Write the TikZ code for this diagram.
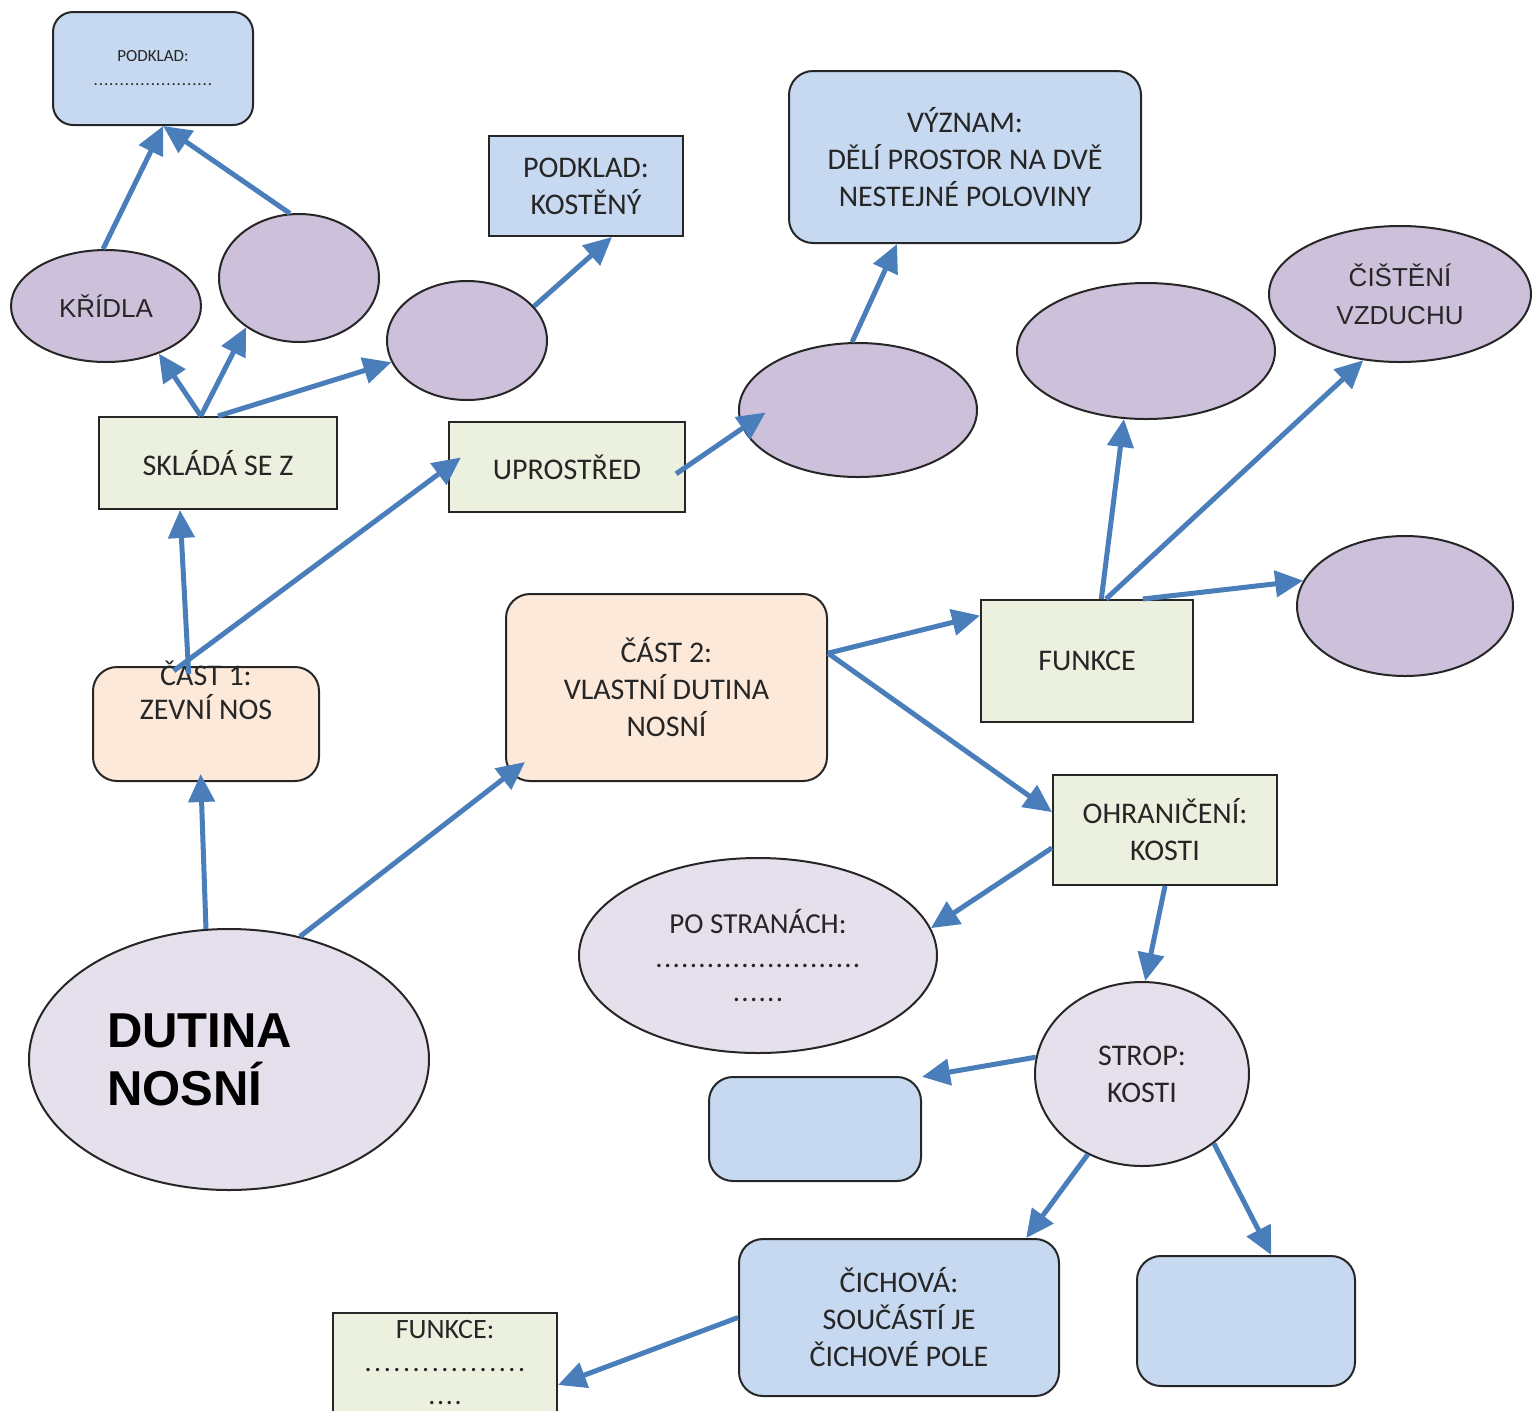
\documentclass[tikz,border=0pt]{standalone}
\usepackage{fontspec}
\setmainfont{Carlito}
\newfontfamily\arialfont{Liberation Sans}
\usetikzlibrary{arrows.meta}
\usetikzlibrary{shapes.geometric}
\definecolor{arrblue}{HTML}{4A7EBB}
\definecolor{boxblue}{HTML}{C6D9F1}
\definecolor{boxgreen}{HTML}{EBF1DE}
\definecolor{boxpeach}{HTML}{FDE9D9}
\definecolor{ovpurple}{HTML}{CCC0DA}
\definecolor{ovlav}{HTML}{E5E0EC}
% row of evenly spaced dots: width, dot pitch
\newcommand{\dotline}[2]{\hbox to #1{\cleaders\hbox to #2{\hss.\hss}\hfil}}
\tikzset{%
  arr/.style = {-{Triangle[length=14pt,width=13pt]},line width=2.5pt,arrblue},
  sq/.style = {rectangle,draw=black!85,line width=1pt,inner sep=0pt},
  rr/.style = {rectangle,rounded corners=12pt,draw=black!85,line width=1pt,
        inner sep=0pt},
  ov/.style = {ellipse,draw=black!85,line width=1pt,inner sep=0pt},
  txt/.style = {font=\fontsize{15}{18.5}\selectfont,align=center,
        text=black!85},
  atxt/.style = {font=\arialfont\fontsize{13}{19}\selectfont,align=center,
        text=black!85}
}
\begin{document}
\begin{tikzpicture}[x=0.5pt,y=-0.5pt]
    \useasboundingbox (0,0) rectangle (1533,1410);
    % top left branch
    \node[rr,fill=boxblue,rounded corners=10pt,minimum width=100pt,minimum height=56.5pt,
        font=\fontsize{8.5}{12}\selectfont,align=center,text=black!85]
        (pod1) at (153,68.5) {PODKLAD:\\\dotline{60pt}{2.6pt}};
    \node[ov,fill=ovpurple,minimum width=95pt,minimum height=56pt,atxt]
        (kridla) at (106,306) {KŘÍDLA};
    \node[ov,fill=ovpurple,minimum width=80pt,minimum height=64pt] (ovA) at (299,278) {};
    \node[ov,fill=ovpurple,minimum width=80pt,minimum height=59.5pt] (ovB) at (467,340.5) {};
    \node[sq,fill=boxblue,minimum width=97pt,minimum height=50pt,txt]
        (podkost) at (586,186) {PODKLAD:\\KOSTĚNÝ};
    \node[sq,fill=boxgreen,minimum width=119pt,minimum height=46pt,txt]
        (sklada) at (218,463) {SKLÁDÁ SE Z};
    \node[sq,fill=boxgreen,minimum width=118pt,minimum height=45pt,txt]
        (uprostred) at (567,467) {UPROSTŘED};
    \node[ov,fill=ovpurple,minimum width=119pt,minimum height=67pt] (ovC) at (858,410) {};
    \node[rr,fill=boxblue,minimum width=176pt,minimum height=86pt,txt]
        (vyznam) at (965,157) {VÝZNAM:\\DĚLÍ PROSTOR NA DVĚ\\NESTEJNÉ POLOVINY};
    % right branch
    \node[ov,fill=ovpurple,minimum width=129pt,minimum height=68pt] (ovD) at (1146,351) {};
    \node[ov,fill=ovpurple,minimum width=131pt,minimum height=68pt,atxt]
        (cisteni) at (1400,294) {ČIŠTĚNÍ\\VZDUCHU};
    \node[ov,fill=ovpurple,minimum width=108pt,minimum height=70pt] (ovE) at (1405,606) {};
    \node[sq,fill=boxgreen,minimum width=106pt,minimum height=61pt,txt]
        (funkce) at (1087,661) {FUNKCE};
    % main parts
    \node[rr,fill=boxpeach,minimum width=160.5pt,minimum height=93.5pt,txt]
        (cast2) at (666.5,687.5) {ČÁST 2:\\VLASTNÍ DUTINA\\NOSNÍ};
    \node[rr,fill=boxpeach,minimum width=113pt,minimum height=57pt] (cast1) at (206,724) {};
    \node[txt,font=\fontsize{15}{17}\selectfont] (cast1txt) at (206,690) {ČÁST 1:\\ZEVNÍ NOS};
    \node[ov,fill=ovlav,minimum width=200pt,minimum height=130.5pt] (dutina) at (229,1059.5) {};
    \node[anchor=west,align=left,font=\arialfont\bfseries\fontsize{24.5}{29}\selectfont]
        (dutinatxt) at (100,1060) {DUTINA\\NOSNÍ};
    % lower right branch
    \node[sq,fill=boxgreen,minimum width=112pt,minimum height=55pt,txt]
        (ohran) at (1165,830) {OHRANIČENÍ:\\KOSTI};
    \node[ov,fill=ovlav,minimum width=179pt,minimum height=97.5pt,txt,
        font=\fontsize{14.5}{17}\selectfont]
        (postr) at (758,955.5) {PO STRANÁCH:\\\dotline{104pt}{4.3pt}\\\dotline{26pt}{4.3pt}};
    \node[ov,fill=ovlav,minimum width=107pt,minimum height=92pt,txt]
        (strop) at (1142,1074) {STROP:\\KOSTI};
    \node[rr,fill=boxblue,minimum width=106pt,minimum height=52pt] (boxA) at (815,1129) {};
    \node[rr,fill=boxblue,minimum width=160pt,minimum height=78.5pt,txt]
        (cichova) at (899,1317.5) {ČICHOVÁ:\\SOUČÁSTÍ JE\\ČICHOVÉ POLE};
    \node[rr,fill=boxblue,minimum width=109pt,minimum height=65pt] (boxB) at (1246,1321) {};
    \node[sq,fill=boxgreen,minimum width=112pt,minimum height=50pt,txt,
        font=\fontsize{14}{16.5}\selectfont]
        (funkcedots) at (445,1363) {FUNKCE:\\\dotline{82pt}{4.8pt}\\\dotline{19pt}{4.4pt}};
    % arrows
    \draw[arr] (kridla.93) -- (pod1.-80);
    \draw[arr] (ovA.98) -- (pod1.-80);
    \draw[arr] (sklada.110) -- (kridla.-42);
    \draw[arr] (sklada.110) -- (ovA.-137);
    \draw[arr] (sklada.north) -- (ovB.-164);
    \draw[arr] (ovB.27) -- (podkost.-63);
    \draw[arr,shorten <=-4pt] (cast1.107) -- (sklada.-129);
    \draw[arr,shorten <=-4pt,shorten >=-8pt] (cast1.114) -- (uprostred.west);
    \draw[arr,shorten <=-6pt,shorten >=-14pt] (uprostred.east) -- (ovC.-171);
    \draw[arr] (ovC.95) -- (vyznam.-128);
    \draw[arr,shorten >=-4pt] (dutina.100) -- (cast1.-95);
    \draw[arr] (dutina.60) -- ([xshift=10pt,yshift=10pt]cast2.south west);
    \draw[arr] (cast2.12) -- (funkce.157);
    \draw[arr] (cast2.12) -- (ohran.171);
    \draw[arr] (funkce.77) -- (ovD.-108);
    \draw[arr] (funkce.73) -- (cisteni.-119);
    \draw[arr] (funkce.48) -- (ovE.166);
    \draw[arr] (ohran.-171) -- (postr.9);
    \draw[arr] (ohran.south) -- (strop.88);
    \draw[arr] (strop.171) -- (boxA.26);
    \draw[arr] (strop.-124) -- (cichova.32);
    \draw[arr] (strop.-44) -- (boxB.69);
    \draw[arr] (cichova.west) -- (funkcedots.-11);
\end{tikzpicture}
\end{document}
